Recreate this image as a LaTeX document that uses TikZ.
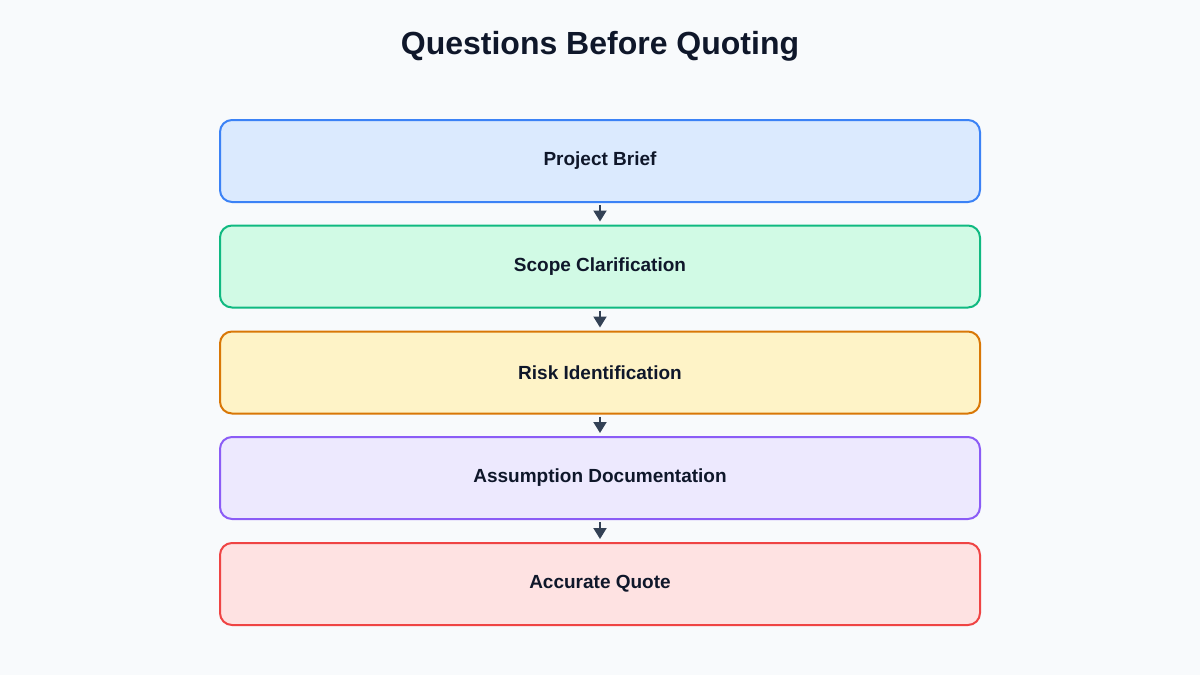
\documentclass[tikz,border=0pt]{standalone}
\usepackage{fontspec}
\setmainfont{Liberation Sans}
\usetikzlibrary{arrows.meta}
\definecolor{bg}{HTML}{F8FAFC}
\definecolor{ink}{HTML}{0F172A}
\definecolor{arrowc}{HTML}{334155}
\definecolor{blueL}{HTML}{3B82F6}\definecolor{blueF}{HTML}{DBEAFE}
\definecolor{greenL}{HTML}{10B981}\definecolor{greenF}{HTML}{D1FAE5}
\definecolor{amberL}{HTML}{D97706}\definecolor{amberF}{HTML}{FEF3C7}
\definecolor{purpleL}{HTML}{8B5CF6}\definecolor{purpleF}{HTML}{EDE9FE}
\definecolor{redL}{HTML}{EF4444}\definecolor{redF}{HTML}{FEE2E2}
\begin{document}
\begin{tikzpicture}[x=1pt, y=-1pt,
        stage/.style={draw, line width=2pt, rounded corners=12pt,
            minimum width=760pt, minimum height=82pt, inner sep=0pt,
            text=ink, font=\fontsize{19}{22}\selectfont\bfseries},
        flow/.style={-{Triangle[length=11pt,width=13pt]}, line width=2pt,
            draw=arrowc, shorten <=2pt, shorten >=3pt}]
        \fill[bg] (0, 0) rectangle (1200, 675);
        \node[text=ink, font=\fontsize{32}{38}\selectfont\bfseries] (title) at (600, 46) {Questions Before Quoting};

        \node [stage, draw=blueL, fill=blueF] (Brief) at (600, 161) {Project Brief};
        \node [stage, draw=greenL, fill=greenF] (Scope) at (600, 266.5) {Scope Clarification};
        \node [stage, draw=amberL, fill=amberF] (Risk) at (600, 372.5) {Risk Identification};
        \node [stage, draw=purpleL, fill=purpleF] (Assume) at (600, 478) {Assumption Documentation};
        \node [stage, draw=redL, fill=redF] (Quote) at (600, 584) {Accurate Quote};

        % Edges
        \draw[flow] (Brief) -- (Scope);
        \draw[flow] (Scope) -- (Risk);
        \draw[flow] (Risk) -- (Assume);
        \draw[flow] (Assume) -- (Quote);
    \end{tikzpicture}
\end{document}
